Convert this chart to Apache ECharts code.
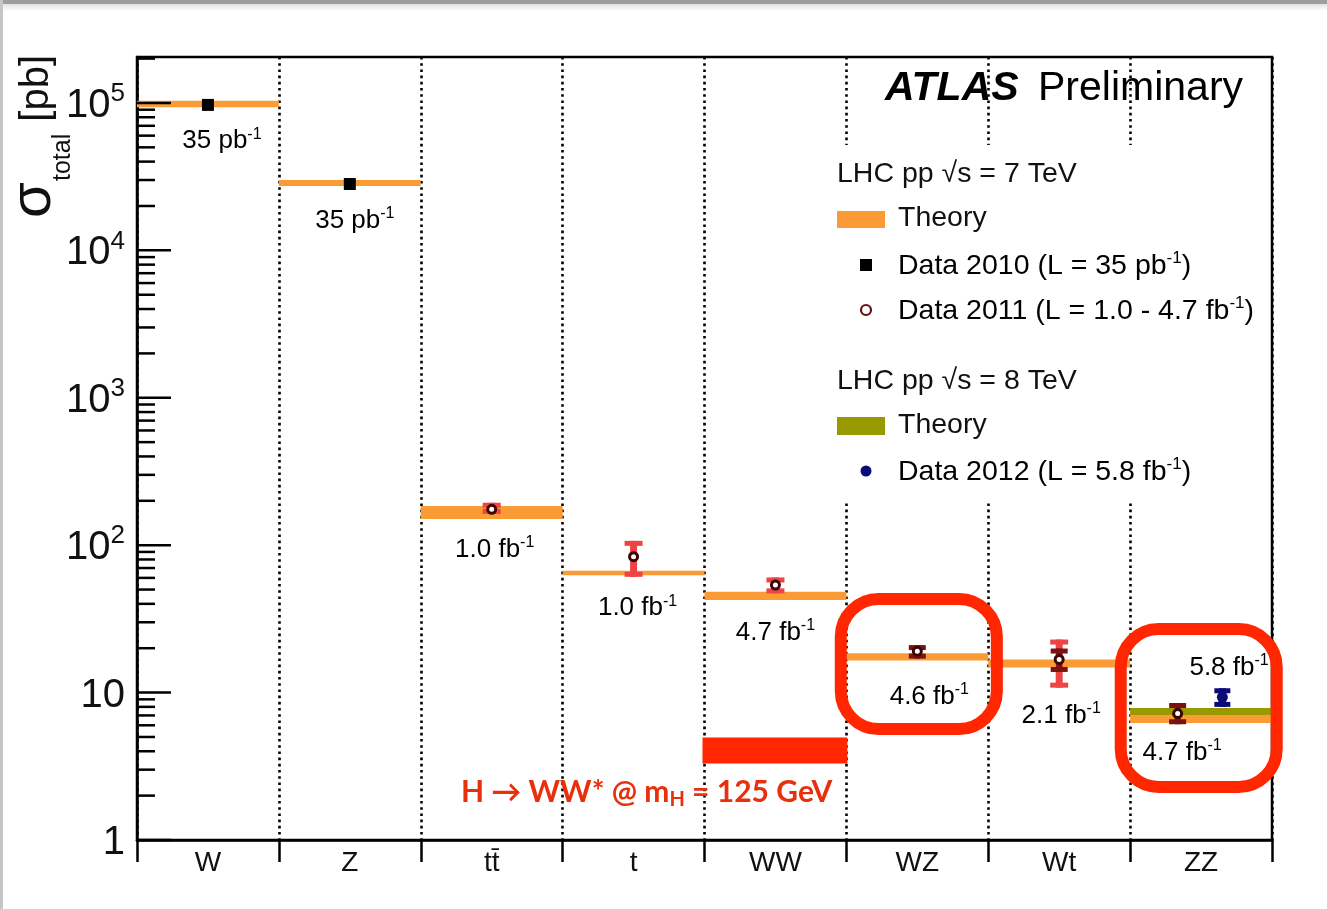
<!DOCTYPE html>
<html><head><meta charset="utf-8">
<script src="https://cdn.jsdelivr.net/npm/echarts@6/dist/echarts.min.js"></script>
<style>
html,body{margin:0;padding:0;background:#fff;}
#frame{position:absolute;left:0;top:0;width:1327px;height:909px;overflow:hidden;background:#fff;}
#main{position:absolute;left:0;top:0;width:1327px;height:909px;}
#topbar{position:absolute;left:0;top:0;width:1327px;height:4px;background:#9e9e9e;}
#topshade{position:absolute;left:0;top:4px;width:1327px;height:7px;background:linear-gradient(#e2e2e2,#ffffff);}
#leftbar{position:absolute;left:0;top:0;width:3px;height:909px;background:#c6c6c6;}
</style></head>
<body><div id="frame"><div id="main"></div><div id="topbar"></div><div id="topshade"></div><div id="leftbar"></div></div>
<script>
// ---------------- data ----------------
const categories = ['W', 'Z', 'tt\u0304', 't', 'WW', 'WZ', 'Wt', 'ZZ'];

// LHC pp 7 TeV theory band [pb]
const theory7Low  = [93500, 27350, 150.6, 62.5, 42.5, 16.5, 14.8, 6.22];
const theory7High = [103700, 30030, 184.5, 67.1, 48.4, 18.5, 16.8, 7.16];

// LHC pp 8 TeV theory band [pb]
const theory8Cat  = ['ZZ'];
const theory8Low  = [7.05];
const theory8High = [7.86];

// Data 2010 (L = 35 pb-1)
const data2010Cat = ['W', 'Z'];
const data2010Val = [97000, 28200];

// Data 2011 (L = 1.0 - 4.7 fb-1)
const data2011Cat      = ['tt\u0304', 't', 'WW', 'WZ', 'Wt', 'ZZ'];
const data2011Val      = [175, 83.5, 53.7, 19.1, 16.8, 7.2];
const data2011TotLow   = [163, 61, 47.1, null, 10.8, null];
const data2011TotHigh  = [194, 107, 60.4, null, 22.9, null];
const data2011StatLow  = [null, null, null, 17.0, 13.8, 6.1];
const data2011StatHigh = [null, null, null, 21.0, 19.9, 8.5];

// Data 2012 (L = 5.8 fb-1)
const data2012Cat  = ['ZZ'];
const data2012Val  = [9.3];
const data2012Low  = [8.0];
const data2012High = [10.7];

// H -> WW* @ mH = 125 GeV annotation band
const higgsCat  = ['WW'];
const higgsLow  = [3.3];
const higgsHigh = [4.95];

// highlighted boxes (value range)
const boxCat  = ['WZ', 'ZZ'];
const boxLow  = [5.66, 2.29];
const boxHigh = [43.2, 27.0];

// luminosity labels
const lumiCat  = ['W', 'Z', 'tt\u0304', 't', 'WW', 'WZ', 'Wt', 'ZZ', 'ZZ'];
const lumiMain = ['35 pb', '35 pb', '1.0 fb', '1.0 fb', '4.7 fb', '4.6 fb', '2.1 fb', '4.7 fb', '5.8 fb'];
const lumiAnchor = [93500, 27350, 150.6, 62.5, 42.5, 16.5, 14.8, 6.22, 7.86]; // band edge each label hangs from

// y axis tick labels
const yTickValues = [1, 10, 100, 1000, 10000, 100000];
const yTickLabels = ['{b|1}', '{b|10}', '{b|10}{s|2}', '{b|10}{s|3}', '{b|10}{s|4}', '{b|10}{s|5}'];

// ---------------- layout / style (not data) ----------------
const FONT = 'Liberation Sans, Arial, Helvetica, sans-serif';
const ORANGE = '#fb9b35', OLIVE = '#999a00', RED_ERR = '#ee4444', DARK_RED = '#7a1212', NAVY = '#0b0b78', ANNOT = '#ff2600';
const pointShift = { '2011': { ZZ: -0.165 }, '2012': { ZZ: 0.15 } };
const lumiOffset = [[14, 34], [5, 35], [3, 31], [4, 33], [0, 33], [12, 36], [2, 48], [-19, 30], [28, -40]];
const boxPad = [[5.6, 8.6], [9.4, 4.7]];
const YMAX = 205000;

const ci = c => categories.indexOf(c);

// ---------------- render helpers ----------------
function bandRender(color) {
  return function (params, api) {
    const c = api.value(0);
    const pLo = api.coord([c, api.value(1)]);
    const pHi = api.coord([c, api.value(2)]);
    const bw = api.size([1, 0])[0];
    return { type: 'rect', shape: { x: pLo[0] - bw / 2, y: pHi[1], width: bw, height: pLo[1] - pHi[1] }, style: { fill: color } };
  };
}
function errRender(color, vw, capW, capH) {
  return function (params, api) {
    const c = api.value(0);
    const pLo = api.coord([c, api.value(1)]);
    const pHi = api.coord([c, api.value(2)]);
    const bw = api.size([1, 0])[0];
    const x = pLo[0] + api.value(3) * bw;
    return { type: 'group', children: [
      { type: 'rect', shape: { x: x - vw / 2, y: pHi[1], width: vw, height: pLo[1] - pHi[1] }, style: { fill: color } },
      { type: 'rect', shape: { x: x - capW / 2, y: pHi[1], width: capW, height: capH }, style: { fill: color } },
      { type: 'rect', shape: { x: x - capW / 2, y: pLo[1] - capH, width: capW, height: capH }, style: { fill: color } }
    ] };
  };
}
function markerRender(kind) {
  return function (params, api) {
    const c = api.value(0);
    const p = api.coord([c, api.value(1)]);
    const bw = api.size([1, 0])[0];
    const x = p[0] + api.value(2) * bw;
    if (kind === 'square') return { type: 'rect', shape: { x: x - 6, y: p[1] - 6, width: 12, height: 12 }, style: { fill: '#000' } };
    if (kind === 'open') return { type: 'circle', shape: { cx: x, cy: p[1], r: 4 }, style: { fill: '#fff', stroke: '#3a0606', lineWidth: 3 } };
    return { type: 'circle', shape: { cx: x, cy: p[1], r: 5.5 }, style: { fill: NAVY } };
  };
}

const supRich = {
  a: { fontSize: 26, fontFamily: FONT, color: '#111', lineHeight: 30 },
  s: { fontSize: 16, fontFamily: FONT, color: '#111', lineHeight: 18, verticalAlign: 'top' }
};
const legRich = {
  a: { fontSize: 28.5, fontFamily: FONT, color: '#111', lineHeight: 32 },
  s: { fontSize: 17, fontFamily: FONT, color: '#111', lineHeight: 18, verticalAlign: 'top' }
};

// ---------------- series data ----------------
const theory7Data = categories.map((c, i) => [i, theory7Low[i], theory7High[i]]);
const theory8Data = theory8Cat.map((c, i) => [ci(c), theory8Low[i], theory8High[i]]);
const d2010Data = data2010Cat.map((c, i) => [ci(c), data2010Val[i], 0]);
const d2011Data = data2011Cat.map((c, i) => [ci(c), data2011Val[i], pointShift['2011'][c] || 0]);
const d2011Tot = [], d2011Stat = [];
data2011Cat.forEach((c, i) => {
  const s = pointShift['2011'][c] || 0;
  if (data2011TotLow[i] != null) d2011Tot.push([ci(c), data2011TotLow[i], data2011TotHigh[i], s]);
  if (data2011StatLow[i] != null) d2011Stat.push([ci(c), data2011StatLow[i], data2011StatHigh[i], s]);
});
const d2012Data = data2012Cat.map((c, i) => [ci(c), data2012Val[i], pointShift['2012'][c] || 0]);
const d2012Err = data2012Cat.map((c, i) => [ci(c), data2012Low[i], data2012High[i], pointShift['2012'][c] || 0]);
const higgsData = higgsCat.map((c, i) => [ci(c), higgsLow[i], higgsHigh[i]]);
const boxData = boxCat.map((c, i) => [ci(c), boxLow[i], boxHigh[i], i]);
const lumiData = lumiCat.map((c, i) => [ci(c), lumiAnchor[i], i]);

// axis ticks (decade structure of the log axis)
const tickData = [];
for (let e = 0; e <= 5; e++) {
  for (let k = 1; k <= 9; k++) {
    const v = k * Math.pow(10, e);
    if (v < YMAX) tickData.push([0, v, k === 1 ? 1 : 0]);
  }
}

const option = {
  animation: false,
  backgroundColor: 'transparent',
  grid: { left: 137, top: 57, right: 55, bottom: 69, show: true, borderColor: '#000', borderWidth: 2.5, backgroundColor: 'transparent' },
  xAxis: {
    type: 'category', data: categories, boundaryGap: true,
    axisLine: { onZero: false, lineStyle: { color: '#000', width: 2.5 } },
    axisTick: { show: true, length: 22, inside: false, lineStyle: { color: '#000', width: 2.5 } },
    axisLabel: { fontSize: 28, color: '#111', fontFamily: FONT, margin: 9 },
    splitLine: { show: true, lineStyle: { color: '#000', width: 2.6, type: [2.6, 3.6] } }
  },
  yAxis: {
    type: 'log', logBase: 10, min: 1, max: YMAX,
    axisLine: { show: true, lineStyle: { color: '#000', width: 2.5 } },
    axisTick: { show: false }, splitLine: { show: false }, minorTick: { show: false },
    axisLabel: {
      margin: 12,
      formatter: function (v) {
        const e = Math.round(Math.log10(v));
        if (Math.abs(Math.log10(v) - e) > 1e-6) return '';
        const idx = yTickValues.findIndex(t => Math.abs(Math.log10(t) - e) < 1e-6);
        return idx >= 0 ? yTickLabels[idx] : '';
      },
      rich: {
        b: { fontSize: 40, fontFamily: FONT, color: '#111', lineHeight: 44, padding: [6, 0, 0, 0] },
        s: { fontSize: 26, fontFamily: FONT, color: '#111', lineHeight: 26, verticalAlign: 'top' }
      }
    }
  },
  series: [
    { type: 'custom', name: 'Theory 7 TeV', renderItem: bandRender(ORANGE), data: theory7Data, encode: { x: 0, y: [1, 2] }, z: 3 },
    { type: 'custom', name: 'Theory 8 TeV', renderItem: bandRender(OLIVE), data: theory8Data, encode: { x: 0, y: [1, 2] }, z: 4 },
    { type: 'custom', name: 'Higgs', data: higgsData, encode: { x: 0, y: [1, 2] }, z: 4,
      renderItem: function (params, api) {
        const c = api.value(0);
        const pLo = api.coord([c, api.value(1)]);
        const pHi = api.coord([c, api.value(2)]);
        const bw = api.size([1, 0])[0];
        return { type: 'group', children: [
          { type: 'rect', shape: { x: pLo[0] - bw / 2 - 2, y: pHi[1], width: bw + 3, height: pLo[1] - pHi[1] }, style: { fill: ANNOT } },
          { type: 'text', x: pLo[0] + bw / 2 - 14, y: pLo[1] + 29, style: {
            text: '{a|H \u2192 WW* @ m}{b|H}{a| = 125 GeV}', align: 'right', verticalAlign: 'middle',
            rich: {
              a: { fontSize: 30, fontFamily: 'Lato, Open Sans, sans-serif', fontWeight: 'bold', fill: '#e8300c', lineHeight: 34 },
              b: { fontSize: 20, fontFamily: 'Lato, Open Sans, sans-serif', fontWeight: 'bold', fill: '#e8300c', lineHeight: 24, verticalAlign: 'bottom' }
            } } }
        ] };
      } },
    { type: 'custom', name: 'Data 2011 total', renderItem: errRender(RED_ERR, 7, 18, 5), data: d2011Tot, encode: { x: 0, y: [1, 2] }, z: 5 },
    { type: 'custom', name: 'Data 2011 stat', renderItem: errRender(DARK_RED, 6, 17, 5), data: d2011Stat, encode: { x: 0, y: [1, 2] }, z: 6 },
    { type: 'custom', name: 'Data 2012 err', renderItem: errRender(NAVY, 7, 16, 5), data: d2012Err, encode: { x: 0, y: [1, 2] }, z: 6 },
    { type: 'custom', name: 'Data 2010', renderItem: markerRender('square'), data: d2010Data, encode: { x: 0, y: 1 }, z: 7 },
    { type: 'custom', name: 'Data 2011', renderItem: markerRender('open'), data: d2011Data, encode: { x: 0, y: 1 }, z: 7 },
    { type: 'custom', name: 'Data 2012', renderItem: markerRender('dot'), data: d2012Data, encode: { x: 0, y: 1 }, z: 7 },
    { type: 'custom', name: 'lumi', data: lumiData, encode: { x: 0, y: 1 }, z: 8,
      renderItem: function (params, api) {
        const c = api.value(0), i = api.value(2);
        const p = api.coord([c, api.value(1)]);
        const off = lumiOffset[i];
        return { type: 'text', x: p[0] + off[0], y: p[1] + off[1], style: {
          text: '{a|' + lumiMain[i] + '}{s|-1}', align: 'center', verticalAlign: 'middle', rich: supRich } };
      } },
    { type: 'custom', name: 'boxes', data: boxData, encode: { x: 0, y: [1, 2] }, z: 9,
      renderItem: function (params, api) {
        const c = api.value(0), i = api.value(3);
        const pLo = api.coord([c, api.value(1)]);
        const pHi = api.coord([c, api.value(2)]);
        const bw = api.size([1, 0])[0];
        const x0 = pLo[0] - bw / 2 - boxPad[i][0], x1 = pLo[0] + bw / 2 + boxPad[i][1];
        return { type: 'rect', shape: { x: x0, y: pHi[1], width: x1 - x0, height: pLo[1] - pHi[1], r: 38 },
          style: { fill: 'none', stroke: ANNOT, lineWidth: 12 } };
      } },
    { type: 'custom', name: 'yticks', data: tickData, encode: { x: 0, y: 1 }, z: 10,
      renderItem: function (params, api) {
        const p = api.coord([0, api.value(1)]);
        const x0 = params.coordSys.x;
        const len = api.value(2) ? 34 : 18;
        return { type: 'line', shape: { x1: x0, y1: p[1], x2: x0 + len, y2: p[1] }, style: { stroke: '#000', lineWidth: 2.5 } };
      } }
  ],
  graphic: [
    // y-axis title
    { type: 'text', z: 60, x: 34, y: 200, rotation: Math.PI / 2, style: { text: '\u03c3', font: '58px ' + FONT, fill: '#111', align: 'center', verticalAlign: 'middle' } },
    { type: 'text', z: 60, x: 63, y: 181, rotation: Math.PI / 2, style: { text: 'total', font: '25px ' + FONT, fill: '#111', align: 'left', verticalAlign: 'middle' } },
    { type: 'text', z: 60, x: 37, y: 55, rotation: Math.PI / 2, style: { text: '[pb]', font: '40px ' + FONT, fill: '#111', align: 'right', verticalAlign: 'middle' } },
    // ATLAS label
    { type: 'text', z: 60, x: 885, y: 89, style: { text: 'ATLAS', font: 'italic bold 41px ' + FONT, fill: '#000', verticalAlign: 'middle' } },
    { type: 'text', z: 60, x: 1038, y: 89, style: { text: 'Preliminary', font: '41px ' + FONT, fill: '#000', verticalAlign: 'middle' } },
    // legend box
    { type: 'rect', z: 50, shape: { x: 832, y: 145, width: 438, height: 355 }, style: { fill: '#fff' } },
    { type: 'text', z: 60, x: 837, y: 174, style: { text: 'LHC pp \u221as = 7 TeV', font: '28.5px ' + FONT, fill: '#111', verticalAlign: 'middle' } },
    { type: 'rect', z: 60, shape: { x: 837, y: 211, width: 48, height: 17 }, style: { fill: ORANGE } },
    { type: 'text', z: 60, x: 898, y: 218, style: { text: 'Theory', font: '28.5px ' + FONT, fill: '#111', verticalAlign: 'middle' } },
    { type: 'rect', z: 60, shape: { x: 860, y: 259, width: 12, height: 12 }, style: { fill: '#000' } },
    { type: 'text', z: 60, x: 898, y: 266, style: { text: '{a|Data 2010 (L = 35 pb}{s|-1}{a|)}', verticalAlign: 'middle', rich: legRich } },
    { type: 'circle', z: 60, shape: { cx: 866, cy: 310, r: 5 }, style: { fill: '#fff', stroke: '#6a0f0f', lineWidth: 2.2 } },
    { type: 'text', z: 60, x: 898, y: 311, style: { text: '{a|Data 2011 (L = 1.0 - 4.7 fb}{s|-1}{a|)}', verticalAlign: 'middle', rich: legRich } },
    { type: 'text', z: 60, x: 837, y: 381, style: { text: 'LHC pp \u221as = 8 TeV', font: '28.5px ' + FONT, fill: '#111', verticalAlign: 'middle' } },
    { type: 'rect', z: 60, shape: { x: 837, y: 417, width: 48, height: 18 }, style: { fill: OLIVE } },
    { type: 'text', z: 60, x: 898, y: 425, style: { text: 'Theory', font: '28.5px ' + FONT, fill: '#111', verticalAlign: 'middle' } },
    { type: 'circle', z: 60, shape: { cx: 866, cy: 471, r: 5.5 }, style: { fill: NAVY } },
    { type: 'text', z: 60, x: 898, y: 472, style: { text: '{a|Data 2012 (L = 5.8 fb}{s|-1}{a|)}', verticalAlign: 'middle', rich: legRich } }
  ]
};

const chart = echarts.init(document.getElementById('main'), null, { renderer: 'canvas', width: 1327, height: 909 });
chart.setOption(option);
</script>
</body></html>
